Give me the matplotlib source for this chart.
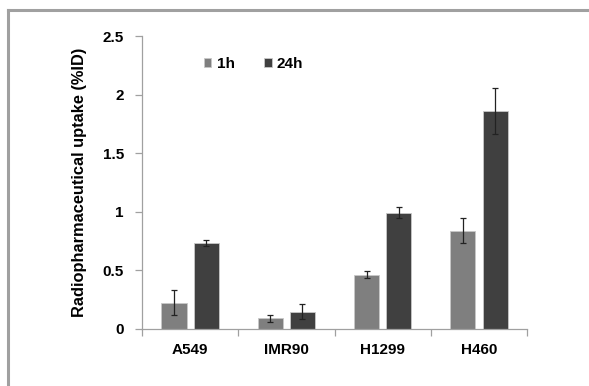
import numpy as np
import matplotlib
matplotlib.use("Agg")
import matplotlib.pyplot as plt
from matplotlib.lines import Line2D

cells = ["A549", "IMR90", "H1299", "H460"]
uptake_1h = [0.224, 0.091, 0.464, 0.839]
err_1h = [0.105, 0.03, 0.028, 0.105]
uptake_24h = [0.734, 0.148, 0.992, 1.86]
err_24h = [0.025, 0.065, 0.045, 0.2]

plt.rcParams['font.family'] = ['Liberation Sans', 'DejaVu Sans']
plt.rcParams['font.weight'] = 'bold'

fig = plt.figure(figsize=(5.89, 3.86), dpi=100)
ax = fig.add_axes([0.241, 0.1477, 0.654, 0.759])

x = np.arange(len(cells))
w = 0.26
off = 0.167
ax.bar(x - off, uptake_1h, w, color='#7f7f7f', edgecolor='#c8c8c8', linewidth=0.6,
       yerr=err_1h, capsize=2.5, error_kw=dict(elinewidth=0.9, ecolor='#222222', capthick=0.9),
       label='1h')
ax.bar(x + off, uptake_24h, w, color='#404040', edgecolor='#c8c8c8', linewidth=0.6,
       yerr=err_24h, capsize=2.5, error_kw=dict(elinewidth=0.9, ecolor='#222222', capthick=0.9),
       label='24h')

ax.set_xlim(-0.5, len(cells) - 0.5)
ax.set_ylim(0, 2.5)
ax.set_yticks([0, 0.5, 1, 1.5, 2, 2.5])
ax.set_yticklabels(['0', '0.5', '1', '1.5', '2', '2.5'], fontsize=11, fontweight='bold')
ax.set_xticks(x)
ax.set_xticklabels(cells, fontsize=11, fontweight='bold')
ax.tick_params(axis='x', length=0, pad=10)
ax.set_xticks(np.arange(len(cells) + 1) - 0.5, minor=True)
ax.tick_params(axis='x', which='minor', length=5, color='#a0a0a0', width=0.9)
ax.tick_params(axis='y', length=5, color='#a0a0a0', width=0.9, pad=8)

for s in ['top', 'right']:
    ax.spines[s].set_visible(False)
for s in ['left', 'bottom']:
    ax.spines[s].set_color('#a0a0a0')
    ax.spines[s].set_linewidth(0.9)

ax.set_ylabel('Radiopharmaceutical uptake (%ID)', fontsize=11.8, fontweight='bold', labelpad=11)

ax.legend(loc='center left', bbox_to_anchor=(0.125, 0.904), ncol=2, frameon=False,
          handlelength=0.5, handleheight=0.5, handletextpad=0.35, columnspacing=1.9,
          prop=dict(size=11, weight='bold'))

# outer gray frame
fig.add_artist(Line2D([7.5 / 589, 7.5 / 589], [0, 1 - 10 / 386], color='#a0a0a0', lw=2.2,
                      transform=fig.transFigure))
fig.add_artist(Line2D([7.5 / 589, 1], [1 - 10 / 386, 1 - 10 / 386], color='#a0a0a0', lw=2.2,
                      transform=fig.transFigure))

fig.savefig('out.png', dpi=100)
